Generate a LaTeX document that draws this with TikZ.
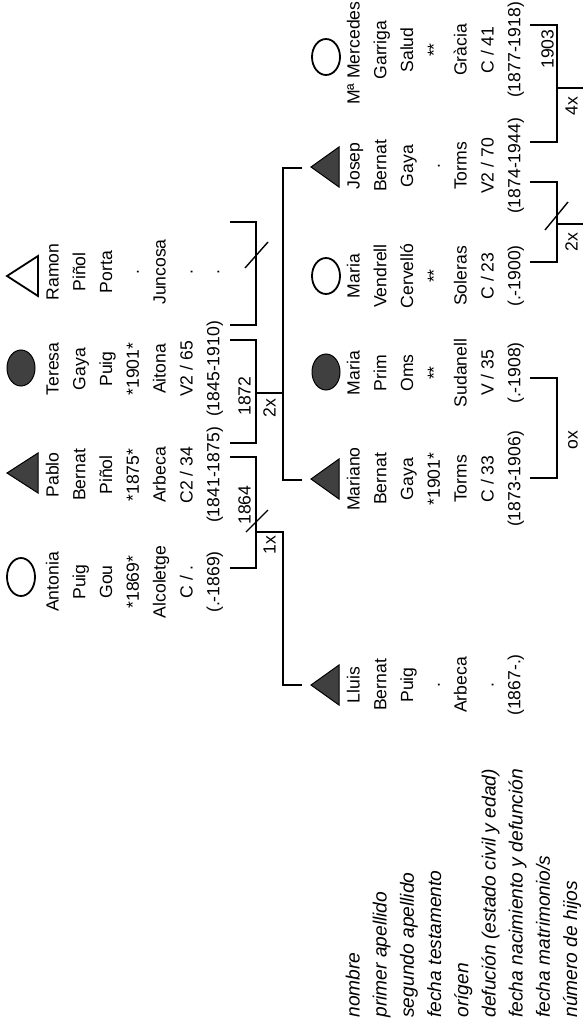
\documentclass[tikz,border=0pt]{standalone}
\usepackage{fontspec}
\setmainfont{Liberation Sans}
\usepackage{tikz}

\tikzset{
  dato/.style={rotate=90, inner sep=0pt, text height=6.4pt, text depth=1.9pt,
    font=\fontsize{8.8}{10}\selectfont},
  leyenda/.style={dato, anchor=west, font=\fontsize{9.6}{11}\selectfont\itshape},
  boda/.style={line width=1pt},
  hijo/.style={line width=0.6pt},
  corte/.style={line width=0.7pt},
  lleno/.style={fill=black!75, draw=black, line width=0.5pt},
  vacio/.style={draw=black, line width=0.9pt}
}

\begin{document}
\begin{tikzpicture}[x=0.5pt, y=-0.5pt]
\useasboundingbox (0,0) rectangle (583,1022);

    % Primera generación: símbolos
    \draw[vacio] (7,276) -- (38,256) -- (38,296) -- cycle;      % Ramon
    \filldraw[lleno] (21,368) ellipse (7pt and 9pt);            % Teresa
    \filldraw[lleno] (7,473) -- (38,453) -- (38,493) -- cycle;  % Pablo
    \draw[vacio] (21,577) ellipse (7pt and 9.5pt);              % Antonia

    % Primera generación: datos
    \foreach \txt [count=\i] in {Ramon,Piñol,Porta,.,Juncosa,.,.}
        \node[dato] (ramon-\i) at (27.2+26.8*\i,272) {\txt};
    \foreach \txt [count=\i] in {Teresa,Gaya,Puig,*1901*,Aitona,V2 / 65,(1845-1910)}
        \node[dato] (teresa-\i) at (27.2+26.8*\i,369) {\txt};
    \foreach \txt [count=\i] in {Pablo,Bernat,Piñol,*1875*,Arbeca,C2 / 34,(1841-1875)}
        \node[dato] (pablo-\i) at (27.2+26.8*\i,475) {\txt};
    \foreach \txt [count=\i] in {Antonia,Puig,Gou,*1869*,Alcoletge,C / .,(.-1869)}
        \node[dato] (antonia-\i) at (27.2+26.8*\i,582) {\txt};

    % Matrimonios de la primera generación
    \coordinate (ramon-b) at (230,222);
    \coordinate (teresa-b1) at (230,325);
    \coordinate (teresa-b2) at (230,340);
    \coordinate (pablo-b2) at (230,443);
    \coordinate (pablo-b1) at (230,457);
    \coordinate (antonia-b) at (230,568);
    \draw[boda] (ramon-b) -- ++(26,0) |- (teresa-b1);
    \draw[boda] (teresa-b2) -- ++(26,0) |- (pablo-b2);
    \draw[boda] (pablo-b1) -- ++(26,0) |- (antonia-b);
    \draw[corte] (245,268) -- (268,242);
    \draw[corte] (246,532) -- (268,510);
    \node[dato] (boda-1872) at (246,396) {1872};
    \node[dato] (hijos-2x) at (271,408) {2x};
    \node[dato] (boda-1864) at (246,505) {1864};
    \node[dato] (hijos-1x) at (271,545) {1x};

    % Descendencia
    \coordinate (pablo-teresa) at (256,393);
    \coordinate (rama-1) at (283,393);
    \coordinate (josep-p) at (302,168);
    \coordinate (mariano-p) at (302,480);
    \draw[hijo] (pablo-teresa) -- (rama-1);
    \draw[hijo] (josep-p) -| (rama-1) |- (mariano-p);
    \coordinate (pablo-antonia) at (256,532);
    \coordinate (rama-2) at (283,532);
    \coordinate (lluis-p) at (302,685);
    \draw[hijo] (pablo-antonia) -- (rama-2) |- (lluis-p);

    % Segunda generación: símbolos
    \draw[vacio] (326,57) ellipse (7pt and 9pt);                 % Mercedes
    \filldraw[lleno] (311,167) -- (339,147) -- (339,187) -- cycle; % Josep
    \draw[vacio] (326,276) ellipse (7pt and 9pt);                % Maria
    \filldraw[lleno] (326,372) ellipse (7pt and 9pt);            % Maria
    \filldraw[lleno] (311,479) -- (339,459) -- (339,499) -- cycle; % Mariano
    \filldraw[lleno] (311,685) -- (339,665) -- (339,705) -- cycle; % Lluis

    % Segunda generación: datos
    \node[dato, anchor=east] (mercedes-1) at (355,1) {Mª Mercedes};
    \foreach \txt [count=\i from 2] in {Garriga,Salud,**,Gràcia,C / 41,(1877-1918)}
        \node[dato] (mercedes-\i) at (328.2+26.8*\i,50) {\txt};
    \foreach \txt [count=\i] in {Josep,Bernat,Gaya,.,Torms,V2 / 70,(1874-1944)}
        \node[dato] (josep-\i) at (328.2+26.8*\i,166) {\txt};
    \foreach \txt [count=\i] in {Maria,Vendrell,Cervelló,**,Soleras,C / 23,(.-1900)}
        \node[dato] (mariav-\i) at (328.2+26.8*\i,276) {\txt};
    \foreach \txt [count=\i] in {Maria,Prim,Oms,**,Sudanell,V / 35,(.-1908)}
        \node[dato] (mariap-\i) at (328.2+26.8*\i,373) {\txt};
    \foreach \txt [count=\i] in {Mariano,Bernat,Gaya,*1901*,Torms,C / 33,(1873-1906)}
        \node[dato] (mariano-\i) at (328.2+26.8*\i,479) {\txt};
    \foreach \txt [count=\i] in {Lluis,Bernat,Puig,.,Arbeca,.,(1867-.)}
        \node[dato] (lluis-\i) at (328.2+26.8*\i,685) {\txt};

    % Matrimonios de la segunda generación
    \coordinate (mercedes-b) at (530,25);
    \coordinate (josep-b1) at (530,142);
    \coordinate (josep-b2) at (530,182);
    \coordinate (mariav-b) at (530,262);
    \coordinate (mariap-b) at (530,378);
    \coordinate (mariano-b) at (530,478);
    \draw[boda] (mercedes-b) -- ++(27,0) |- (josep-b1);
    \draw[boda] (josep-b2) -- ++(27,0) |- (mariav-b);
    \draw[boda] (mariap-b) -- ++(27,0) |- (mariano-b);
    \coordinate (josep-mercedes) at (557,88);
    \coordinate (hijos-4) at (583,88);
    \draw[boda] (josep-mercedes) -- (hijos-4);
    \coordinate (josep-mariav) at (557,224);
    \coordinate (hijos-5) at (583,224);
    \draw[boda] (josep-mariav) -- (hijos-5);
    \draw[corte] (545,230) -- (568,202);
    \node[dato] (boda-1903) at (549,49) {1903};
    \node[dato] (hijos-4x) at (573,106) {4x};
    \node[dato] (hijos-2x-b) at (573,242) {2x};
    \node[dato] (hijos-ox) at (573,440) {ox};

    % Leyenda
    \foreach \txt [count=\i] in {nombre,primer apellido,segundo apellido,fecha testamento,orígen,defución (estado civil y edad),fecha nacimiento y defunción,fecha matrimonio/s,número de hijos}
        \node[leyenda] (leyenda-\i) at (327.8+27.2*\i,1018) {\txt};

\end{tikzpicture}
\end{document}
